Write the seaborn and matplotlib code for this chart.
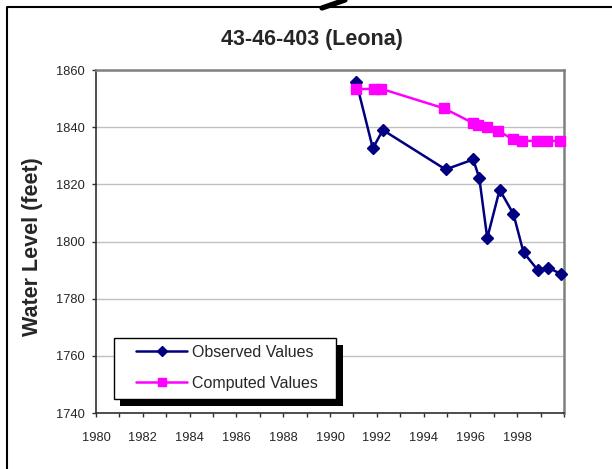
import numpy as np
import pandas as pd
import matplotlib
matplotlib.use("Agg")
import matplotlib.pyplot as plt
import seaborn as sns
from matplotlib.lines import Line2D
from matplotlib.patches import Rectangle

# -----------------------------
# data
# -----------------------------
obs_year = [1991.12, 1991.83, 1992.26, 1994.94, 1996.12, 1996.38, 1996.72,
            1997.25, 1997.84, 1998.27, 1998.88, 1999.31, 1999.88]
obs_level = [1855.9, 1832.6, 1839.0, 1825.2, 1828.7, 1822.2, 1801.2,
             1818.1, 1809.6, 1796.2, 1790.0, 1790.9, 1788.6]

comp_year = [1991.12, 1991.86, 1992.2, 1994.87, 1996.1, 1996.33, 1996.7,
             1997.2, 1997.8, 1998.2, 1998.84, 1999.27, 1999.85]
comp_level = [1853.3, 1853.4, 1853.4, 1846.6, 1841.5, 1840.8, 1840.2,
              1838.7, 1835.8, 1835.2, 1835.2, 1835.2, 1835.2]

x_ticks = list(range(1980, 2001))
x_labels = [str(y) if (y % 2 == 0 and y < 2000) else "" for y in x_ticks]
y_ticks = [1740, 1760, 1780, 1800, 1820, 1840, 1860]

title = "43-46-403 (Leona)"
y_title = "Water Level (feet)"
series_names = ["Observed Values", "Computed Values"]

NAVY = "#000080"
MAGENTA = "#FF00FF"

obs = pd.DataFrame({"year": obs_year, "level": obs_level})
comp = pd.DataFrame({"year": comp_year, "level": comp_level})

# -----------------------------
# figure
# -----------------------------
sns.set_style("white")
plt.rcParams["font.family"] = ["Liberation Sans", "DejaVu Sans"]

W, H = 612, 469
fig = plt.figure(figsize=(W / 100, H / 100), dpi=100)
ax = fig.add_axes([96 / W, 1 - 413 / H, (564 - 96) / W, (413 - 70) / H])

# observed first, computed drawn on top of it (as in the original)
sns.lineplot(data=obs, x="year", y="level", ax=ax, color=NAVY,
             marker="D", markersize=6.3, markeredgewidth=1, markeredgecolor=NAVY,
             linewidth=1.8, sort=False, errorbar=None, clip_on=False, zorder=3)
sns.lineplot(data=comp, x="year", y="level", ax=ax, color=MAGENTA,
             marker="s", markersize=7.8, markeredgewidth=1, markeredgecolor=MAGENTA,
             linewidth=1.8, sort=False, errorbar=None, clip_on=False, zorder=4)

ax.set_xlim(1980, 2000)
ax.set_ylim(1740, 1860)
ax.set_xticks(x_ticks)
ax.set_xticklabels(x_labels)
ax.set_yticks(y_ticks)
ax.set_xlabel("")
ax.set_ylabel("")
ax.yaxis.grid(True, color="#c0c0c0", linewidth=1)
ax.xaxis.grid(False)
ax.tick_params(axis="x", direction="out", length=3, width=1, pad=10.5,
               labelsize=9.3, bottom=True, color="#303030")
ax.tick_params(axis="y", direction="out", length=3, width=1, pad=5,
               labelsize=9.3, left=True, color="#303030")

for side in ["top", "right"]:
    ax.spines[side].set_color("#808080")
    ax.spines[side].set_linewidth(1.8)
for side in ["left", "bottom"]:
    ax.spines[side].set_color("#303030")
    ax.spines[side].set_linewidth(1.2)

# titles
fig.text(312 / W, 1 - 40 / H, title, ha="center", va="center",
         fontsize=15.5, fontweight="bold")
fig.text(33 / W, 1 - 247 / H, y_title, ha="center", va="center",
         rotation=90, fontsize=15.5, fontweight="bold")

# legend with box + black drop shadow
fig.patches.append(Rectangle((120 / W, 1 - 406 / H), 223 / W, 61 / H,
                             transform=fig.transFigure, facecolor="black",
                             edgecolor="none", zorder=4))
fig.patches.append(Rectangle((114 / W, 1 - 399 / H), 222 / W, 61 / H,
                             transform=fig.transFigure, facecolor="white",
                             edgecolor="black", linewidth=1, zorder=4.5))
handles = [
    Line2D([], [], color=NAVY, lw=1.8, marker="D", markersize=4.6),
    Line2D([], [], color=MAGENTA, lw=1.8, marker="s", markersize=5.6),
]
fig.legend(handles, series_names, loc="upper left",
           bbox_to_anchor=(136 / W, 1 - 345 / H), frameon=False,
           borderpad=0, borderaxespad=0, handlelength=3.2,
           handletextpad=0.3, labelspacing=0.98, fontsize=11.5)

# outer chart frame and the stray diagonal stroke at the top
fig.add_artist(Line2D([7 / W, 7 / W, 1], [0, 1 - 7.5 / H, 1 - 7.5 / H],
                      transform=fig.transFigure, color="black", lw=1.5))
fig.add_artist(Line2D([322 / W, 345 / W], [1 - 8 / H, 1.0],
                      transform=fig.transFigure, color="black", lw=3.8))

fig.savefig("out.png", dpi=100)
